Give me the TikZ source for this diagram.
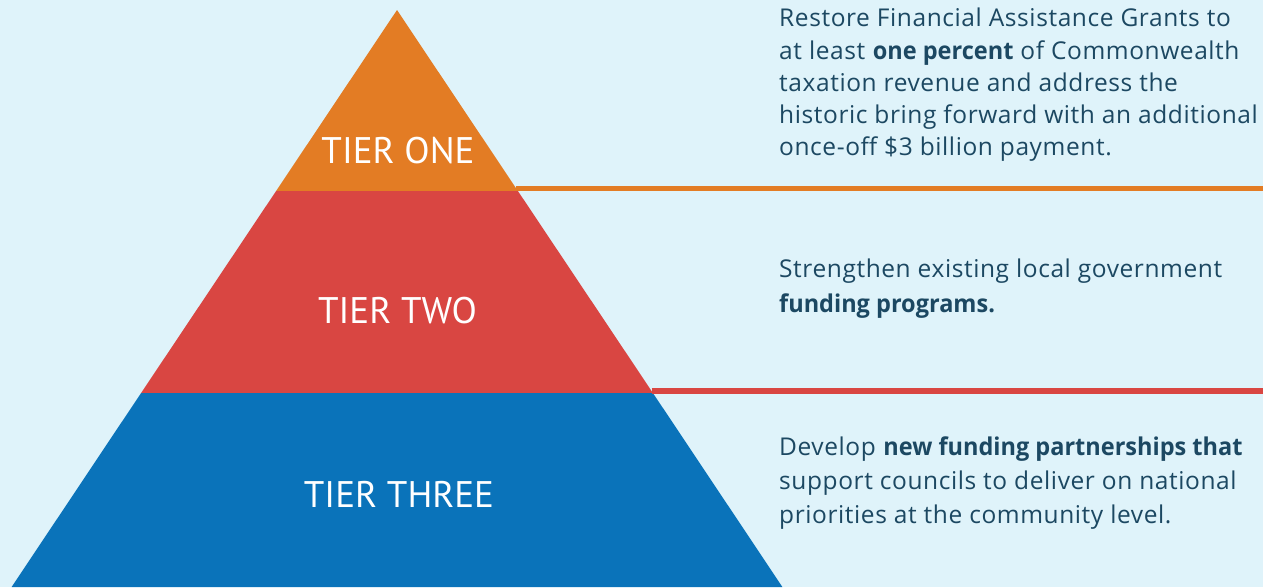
\documentclass[tikz,border=0pt]{standalone}
\usepackage{fontspec}
\setmainfont{Open Sans}[LetterSpace=2.4,BoldFeatures={LetterSpace=0,FakeStretch=0.96}]
\newfontfamily\tierfont{PT Sans}
\definecolor{bgc}{HTML}{DFF3FA}
\definecolor{orng}{HTML}{E37C24}
\definecolor{redc}{HTML}{D94642}
\definecolor{bluec}{HTML}{0A73BA}
\definecolor{txtc}{HTML}{1C4862}
\tikzset{
  tierlabel/.style={text=white,inner sep=0,anchor=base,font=\tierfont\fontsize{37}{40}\selectfont},
  desc/.style={text=txtc,inner sep=0,anchor=base west,font=\fontsize{24.5}{28}\selectfont},
  tierline/.style={line width=#1}
}
\begin{document}
\begin{tikzpicture}[x=1pt,y=-1pt]
\fill[bgc] (0,0) rectangle (1263,587);
\useasboundingbox (0,0) rectangle (1263,587);
% pyramid corners
\coordinate (apex) at (397,10);
\coordinate (oL) at (276.1,191);
\coordinate (oR) at (517.9,191);
\coordinate (rL) at (141.1,393);
\coordinate (rR) at (652.9,393);
\coordinate (bL) at (11.6,587);
\coordinate (bR) at (782.4,587);
\fill[orng] (apex) -- (oR) -- (oL) -- cycle;
\fill[redc] (oL) -- (oR) -- (rR) -- (rL) -- cycle;
\fill[bluec] (rL) -- (rR) -- (bR) -- (bL) -- cycle;
% horizontal lines
\coordinate (l1a) at (516.2,188.5);
\coordinate (l1b) at (1263,188.5);
\coordinate (l2a) at (651.5,391);
\coordinate (l2b) at (1263,391);
\draw[orng,tierline=5pt] (l1a) -- (l1b);
\draw[redc,tierline=5.5pt] (l2a) -- (l2b);
% tier labels
\node[tierlabel] (tone) at (398,163) {TIER ONE};
\node[tierlabel] (ttwo) at (397.5,323) {TIER TWO};
\node[tierlabel] (tthree) at (399,507) {TIER THREE};
% descriptions
\node[desc] (d1a) at (779,26) {Restore Financial Assistance Grants to};
\node[desc] (d1b) at (779,59) {at least \textbf{one percent} of Commonwealth};
\node[desc] (d1c) at (779,91) {taxation revenue and address the};
\node[desc] (d1d) at (779,123) {historic bring forward with an additional};
\node[desc] (d1e) at (779,155) {once-off \$3 billion payment.};
\node[desc] (d2a) at (779,277) {Strengthen existing local government};
\node[desc] (d2b) at (779,312) {\textbf{funding programs.}};
\node[desc] (d3a) at (779,455) {Develop \textbf{new funding partnerships that}};
\node[desc] (d3b) at (779,489) {support councils to deliver on national};
\node[desc] (d3c) at (779,523) {priorities at the community level.};
\end{tikzpicture}
\end{document}
